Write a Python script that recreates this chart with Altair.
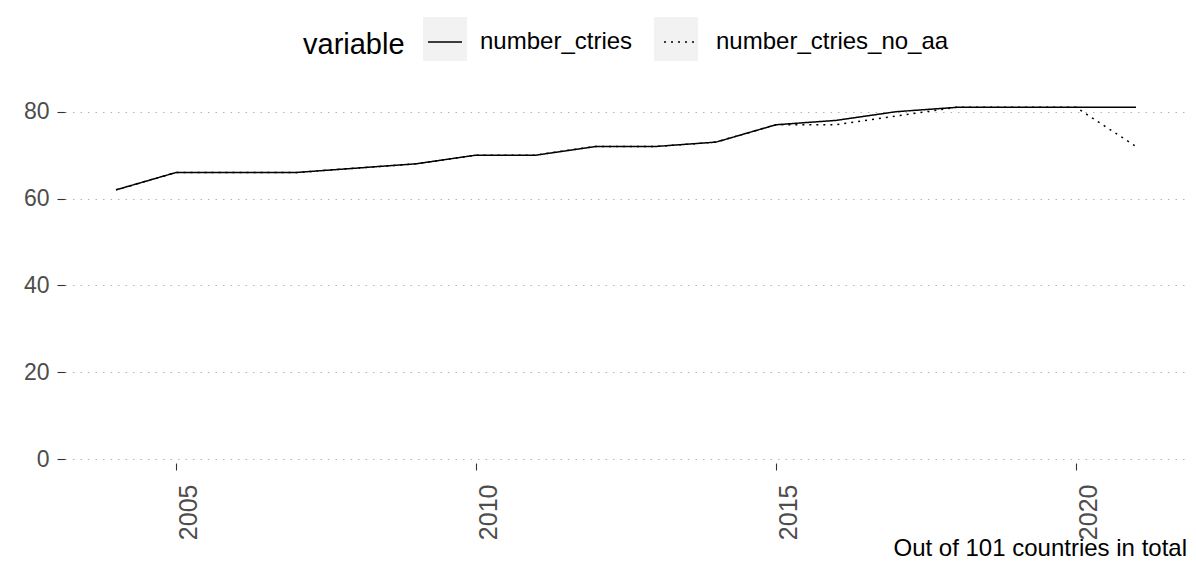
import altair as alt
import pandas as pd

years = list(range(2004, 2022))
number_ctries = [62, 66, 66, 66, 67, 68, 70, 70, 72, 72, 73, 77, 78, 80, 81, 81, 81, 81]
number_ctries_no_aa = [62, 66, 66, 66, 67, 68, 70, 70, 72, 72, 73, 77, 77, 79, 81, 81, 81, 72]
series_names = ["number_ctries", "number_ctries_no_aa"]
y_ticks = [0, 20, 40, 60, 80]
x_ticks = [2005, 2010, 2015, 2020]
legend_title = "variable"
caption = "Out of 101 countries in total"

FONT = "Liberation Sans"

rows = []
for name, vals in zip(series_names, [number_ctries, number_ctries_no_aa]):
    for yr, v in zip(years, vals):
        rows.append({"year": yr, "value": v, "variable": name, "key": name})
df = pd.DataFrame(rows)

x_enc = alt.X(
    "year:Q",
    scale=alt.Scale(domain=[2003.15, 2021.85], nice=False, zero=False),
    axis=alt.Axis(
        values=x_ticks, format="d", title=None, grid=False, domain=False,
        labelAngle=270, labelAlign="right", labelBaseline="middle",
        labelOffset=12, labelPadding=14, tickSize=7, tickColor="#333333",
        tickWidth=1.1, labelColor="#4d4d4d", labelFontSize=25, labelFont=FONT,
    ),
)
y_enc = alt.Y(
    "value:Q",
    scale=alt.Scale(domain=[-0.9, 85], nice=False, zero=False),
    axis=alt.Axis(
        values=y_ticks, title=None, grid=True, gridDash=[1.5, 6],
        gridColor="#b5b5b5", gridWidth=1.2, domain=False, tickSize=8,
        tickColor="#333333", tickWidth=1.1, labelPadding=8,
        labelColor="#4d4d4d", labelFontSize=23, labelFont=FONT,
    ),
)

lines = alt.Chart(df).mark_line(color="black", strokeWidth=1.5).encode(
    x=x_enc,
    y=y_enc,
    strokeDash=alt.StrokeDash(
        "variable:N",
        scale=alt.Scale(domain=series_names, range=[[1, 0], [2, 5]]),
        legend=alt.Legend(
            orient="none", legendX=238, legendY=-66, direction="horizontal",
            title=legend_title, titleOrient="left", titleFontSize=29,
            titleFont=FONT, titleFontWeight="normal", titleColor="black",
            titlePadding=18, titleAnchor="end", titleBaseline="alphabetic",
            labelFontSize=24, labelFont=FONT, labelColor="black", labelLimit=500,
            symbolType="stroke", symbolSize=1156, symbolStrokeWidth=1.5,
            symbolStrokeColor="black", symbolOffset=4, labelOffset=17,
            columnPadding=26, padding=0, zindex=1,
        ),
    ),
)

keys = alt.Chart(df).mark_square(opacity=0).encode(
    x="year:Q",
    y="value:Q",
    fill=alt.Fill(
        "key:N",
        scale=alt.Scale(range=["#f2f2f2", "#f2f2f2"]),
        legend=alt.Legend(
            orient="none", legendX=358, legendY=-73, direction="horizontal",
            title=None, labelExpr="''", labelOffset=0,
            symbolType="square", symbolSize=1936, symbolStrokeWidth=0,
            symbolOpacity=1, columnPadding=187, padding=0, zindex=0,
        ),
    ),
)

chart = alt.layer(keys, lines).properties(
    width=1122,
    height=373,
    autosize=alt.AutoSizeParams(type="none"),
    padding={"left": 57, "top": 82, "right": 0, "bottom": 101},
    title=alt.TitleParams(
        caption, orient="bottom", anchor="end", fontSize=24,
        fontWeight="normal", font=FONT, color="black", baseline="top", offset=-3,
    ),
).configure_view(stroke=None)

chart.save("out.html", embed_options={"renderer": "svg", "actions": False})
